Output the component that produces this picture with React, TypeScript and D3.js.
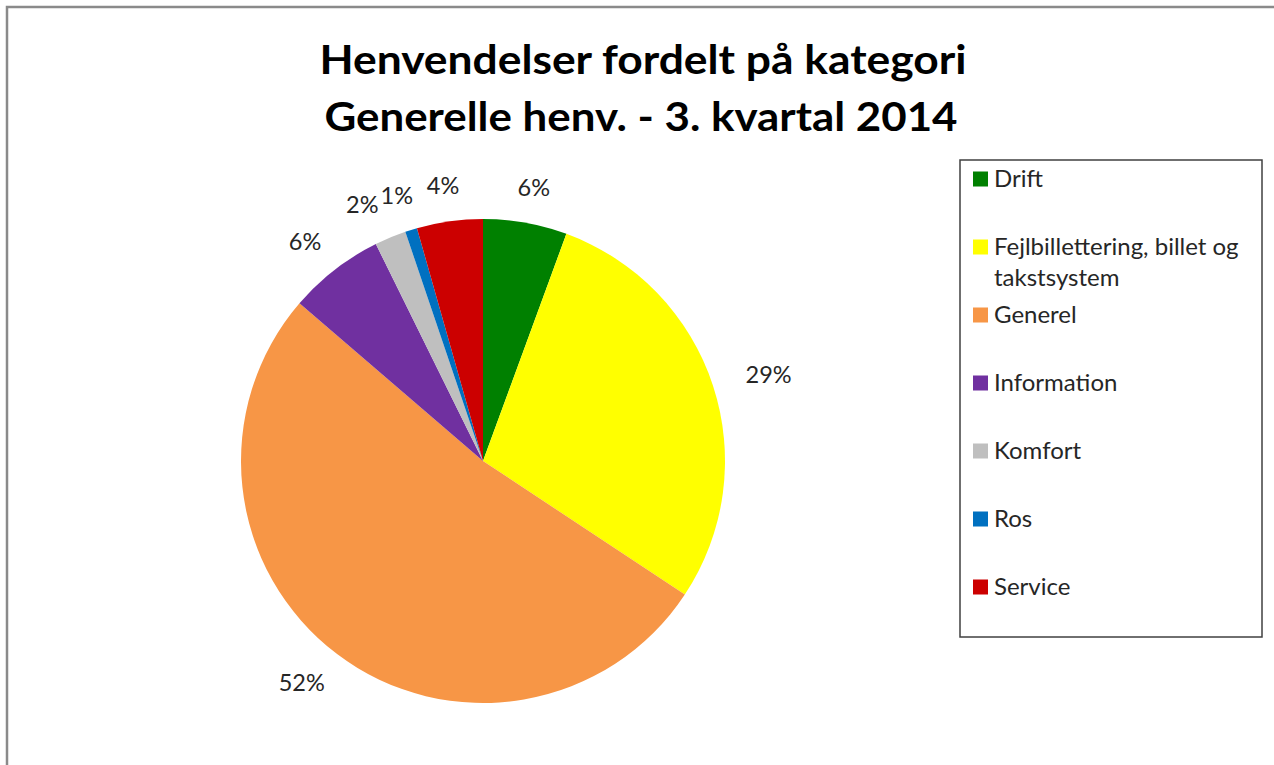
import React from 'react';
import * as d3 from 'd3';

const categories = [
  'Drift',
  'Fejlbillettering, billet og takstsystem',
  'Generel',
  'Information',
  'Komfort',
  'Ros',
  'Service',
];
const values = [5.6, 28.7, 52.0, 6.4, 2.1, 0.8, 4.4];
const colors = ['#008000', '#FFFF00', '#F79646', '#7030A0', '#BFBFBF', '#0070C0', '#CC0000'];
const titleLines = ['Henvendelser fordelt på kategori', 'Generelle henv. - 3. kvartal 2014'];

const W = 1274;
const H = 765;
const FONT = 'Lato, "Open Sans", sans-serif';

function measure(text: string, font: string): number {
  const c = document.createElement('canvas');
  const ctx = c.getContext('2d');
  if (!ctx) return text.length * 10;
  ctx.font = font;
  return ctx.measureText(text).width;
}

function wrap(text: string, maxW: number, font: string): string[] {
  const words = text.split(' ');
  const lines: string[] = [];
  let cur = '';
  for (const w of words) {
    const t = cur ? cur + ' ' + w : w;
    if (measure(t, font) > maxW && cur) {
      lines.push(cur);
      cur = w;
    } else cur = t;
  }
  if (cur) lines.push(cur);
  return lines;
}

export default function App() {
  const cx = 483;
  const cy = 461;
  const R = 242;
  const total = d3.sum(values);
  const pie = d3
    .pie<number>()
    .sort(null)
    .value((d) => d)
    .startAngle(0)
    .endAngle(2 * Math.PI);
  const arcs = pie(values);
  const arcGen = d3.arc<d3.PieArcDatum<number>>().innerRadius(0).outerRadius(R);
  const color = d3.scaleOrdinal<string, string>().domain(categories).range(colors);
  const pct = (v: number) => d3.format('.0f')((v / total) * 100) + '%';

  const labelFontSize = 23.5;
  const labelFont = `${labelFontSize}px Lato`;
  const gap = 24;

  // compute label positions (outside end), then resolve overlaps going counter-clockwise
  const labels = arcs.map((a) => {
    const ang = (a.startAngle + a.endAngle) / 2;
    const txt = pct(a.value);
    const w = measure(txt, labelFont);
    const h = labelFontSize;
    return {
      txt,
      w,
      h,
      x: cx + (R + gap) * Math.sin(ang) + 0.75 * w * Math.sin(ang),
      y: cy - (R + gap) * Math.cos(ang) - (h / 2) * Math.cos(ang),
    };
  });
  for (let i = labels.length - 2; i >= 0; i--) {
    const cur = labels[i];
    const prev = labels[i + 1];
    const overlapY = Math.abs(cur.y - prev.y) < (cur.h + prev.h) / 2 - 4;
    const minDx = (cur.w + prev.w) / 2 + 2;
    if (overlapY && cur.x < prev.x && prev.x - cur.x < minDx && cur.x < cx) {
      cur.x = prev.x - minDx;
    }
  }

  const legendX = 960;
  const legendY = 160;
  const legendW = 302;
  const legendH = 477;
  const rowY = d3
    .scaleLinear()
    .domain([0, categories.length - 1])
    .range([legendY + 19, legendY + 19 + 68 * (categories.length - 1)]);
  const legendFontSize = 24;
  const legendFont = `${legendFontSize}px Lato`;

  return (
    <svg
      width={W}
      height={H}
      style={{ position: 'absolute', left: 0, top: 0, display: 'block', background: '#fff' }}
      fontFamily={FONT}
    >
      <rect x={0} y={0} width={W} height={H} fill="#fff" />
      <rect x={7} y={7} width={W + 40} height={H + 40} fill="#fff" stroke="#8a8a8a" strokeWidth={2.5} />

      {/* Title */}
      <g fontWeight="bold" fontSize={41} fill="#000" textAnchor="middle">
        <text x={643} y={74} textLength={647} lengthAdjust="spacingAndGlyphs">
          {titleLines[0]}
        </text>
        <text x={641} y={131} textLength={633} lengthAdjust="spacingAndGlyphs">
          {titleLines[1]}
        </text>
      </g>

      {/* Pie */}
      <g transform={`translate(${cx},${cy})`}>
        {arcs.map((a, i) => (
          <path key={i} d={arcGen(a) || ''} fill={color(categories[i])} />
        ))}
      </g>

      {/* Data labels */}
      <g fontSize={labelFontSize} fill="#262626" textAnchor="middle">
        {labels.map((l, i) => (
          <text key={i} x={l.x} y={l.y} dy="0.35em">
            {l.txt}
          </text>
        ))}
      </g>

      {/* Legend */}
      <rect x={legendX} y={legendY} width={legendW} height={legendH} fill="#fff" stroke="#404040" strokeWidth={1.5} />
      <g fontSize={legendFontSize} fill="#262626">
        {categories.map((c, i) => {
          const y = rowY(i);
          const lines = wrap(c, legendW - 42, legendFont);
          return (
            <g key={c}>
              <rect x={973} y={y - 7.5} width={15} height={15} fill={color(c)} />
              {lines.map((l, j) => (
                <text key={j} x={994} y={y + j * 31} dy="0.35em">
                  {l}
                </text>
              ))}
            </g>
          );
        })}
      </g>
    </svg>
  );
}
